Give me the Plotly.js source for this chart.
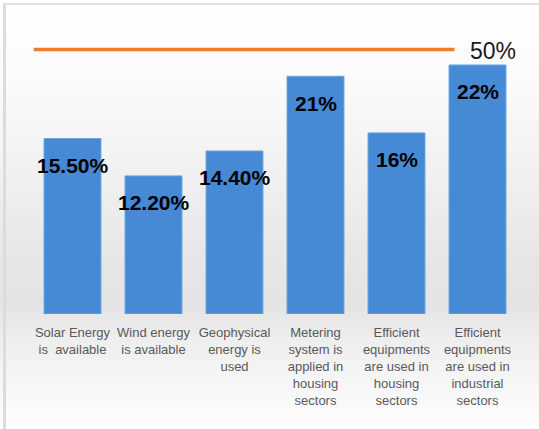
<!DOCTYPE html>
<html>
<head>
<meta charset="utf-8">
<script src="https://cdn.plot.ly/plotly-3.0.1.min.js"></script>
<style>html,body{margin:0;padding:0;background:#fff;}#chart{width:539px;height:429px;}</style>
</head>
<body>
<div id="chart"></div>
<script>
// ---- data ----
const categories = [
  "Solar Energy<br>is  available",
  "Wind energy<br>is available",
  "Geophysical<br>energy is<br>used",
  "Metering<br>system is<br>applied in<br>housing<br>sectors",
  "Efficient<br>equipments<br>are used in<br>housing<br>sectors",
  "Efficient<br>equipments<br>are used in<br>industrial<br>sectors"
];
const values = [15.5, 12.2, 14.4, 21, 16, 22];
const valueLabels = ["15.50%", "12.20%", "14.40%", "21%", "16%", "22%"];
const target = 50;
const targetLabel = "50%";

// ---- layout helpers (pixel -> paper) ----
const W = 539, H = 429, M = {l: 32, r: 21, t: 31, b: 115};
const pw = W - M.l - M.r, ph = H - M.t - M.b;
const px = x => (x - M.l) / pw;
const py = y => (H - M.b - y) / ph;

const shapes = [];
// background vertical gradient bands
const stops = [[0, 255], [90, 250], [180, 240], [260, 230], [305, 228], [340, 238], [390, 248], [429, 254]];
function grey(y) {
  for (let i = 0; i < stops.length - 1; i++) {
    const [y0, c0] = stops[i], [y1, c1] = stops[i + 1];
    if (y >= y0 && y <= y1) return Math.round(c0 + (c1 - c0) * (y - y0) / (y1 - y0));
  }
  return 255;
}
for (let y = 0; y < H; y += 6) {
  const g = grey(y + 3);
  shapes.push({type: 'rect', xref: 'paper', yref: 'paper', layer: 'below',
    x0: px(0), x1: px(W), y0: py(y), y1: py(Math.min(H, y + 6)),
    fillcolor: `rgb(${g},${g},${g})`, line: {width: 0}});
}
// frame
shapes.push({type: 'line', xref: 'paper', yref: 'paper', layer: 'above',
  x0: px(4.5), x1: px(4.5), y0: py(3), y1: py(H), line: {color: '#dcdcdc', width: 3}});
shapes.push({type: 'line', xref: 'paper', yref: 'paper', layer: 'above',
  x0: px(3), x1: px(W), y0: py(4), y1: py(4), line: {color: '#e0e0e0', width: 2}});
// target line
shapes.push({type: 'line', xref: 'paper', yref: 'y2',
  x0: px(33.7), x1: px(454.5), y0: target, y1: target,
  line: {color: '#ED7D31', width: 3.3}});

const annotations = values.map((v, i) => ({
  x: categories[i], y: v, xref: 'x', yref: 'y',
  text: valueLabels[i], showarrow: false, yanchor: 'middle', xanchor: 'center', yshift: -27,
  font: {family: 'Liberation Sans, Arial, sans-serif', size: 21, color: '#000', weight: 'bold'}
}));
annotations.push({
  x: px(468), xref: 'paper', y: target, yref: 'y2', text: targetLabel, showarrow: false,
  xanchor: 'left', yanchor: 'middle', yshift: -1,
  font: {family: 'Liberation Sans, Arial, sans-serif', size: 23, color: '#1a1a1a'}
});

const traces = [{
  type: 'bar', x: categories, y: values,
  marker: {color: '#4689d4', line: {color: '#6ca6e0', width: 1}},
  hoverinfo: 'skip'
}];

const layout = {
  width: W, height: H,
  margin: {l: M.l, r: M.r, t: M.t, b: M.b, pad: 0},
  paper_bgcolor: '#ffffff', plot_bgcolor: 'rgba(0,0,0,0)',
  bargap: 0.297, showlegend: false,
  xaxis: {
    type: 'category', showgrid: false, zeroline: false, showline: false, ticks: '',
    tickfont: {family: 'Liberation Sans, Arial, sans-serif', size: 13, color: '#595959'},
    ticklabelstandoff: 9, tickangle: 0
  },
  yaxis: {range: [0, 25], visible: false, fixedrange: true},
  yaxis2: {range: [0, 53.5], overlaying: 'y', visible: false},
  shapes: shapes, annotations: annotations
};

Plotly.newPlot('chart', traces, layout, {displayModeBar: false, staticPlot: true});
</script>
</body>
</html>
